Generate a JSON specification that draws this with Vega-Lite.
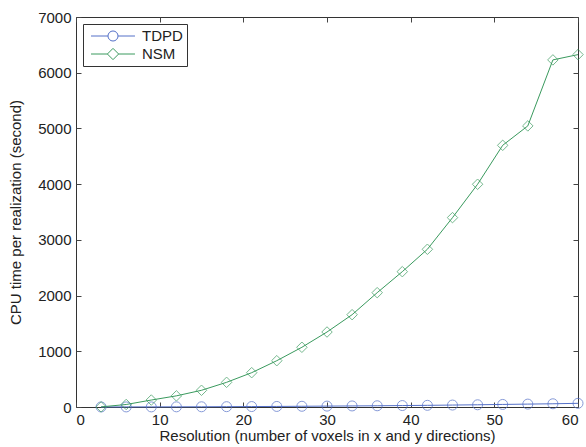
{
  "$schema": "https://vega.github.io/schema/vega-lite/v6.json",
  "width": 502,
  "height": 390,
  "autosize": "none",
  "padding": {"left": 76, "top": 17, "right": 8, "bottom": 40},
  "background": "white",
  "config": {
    "view": {"stroke": "#333333", "strokeWidth": 1},
    "font": "Liberation Sans",
    "axis": {"grid": false, "domain": false, "labelFont": "Liberation Sans", "titleFont": "Liberation Sans", "labelFontSize": 15, "titleFontSize": 15, "titleFontWeight": "normal", "labelColor": "#222", "titleColor": "#222", "tickColor": "#444"}
  },
  "data": {"values": [
    {"x": 3, "y": 1, "series": "TDPD"}, {"x": 6, "y": 1.5, "series": "TDPD"}, {"x": 9, "y": 2, "series": "TDPD"}, {"x": 12, "y": 3, "series": "TDPD"},
    {"x": 15, "y": 4, "series": "TDPD"}, {"x": 18, "y": 6, "series": "TDPD"}, {"x": 21, "y": 8, "series": "TDPD"}, {"x": 24, "y": 10, "series": "TDPD"},
    {"x": 27, "y": 13, "series": "TDPD"}, {"x": 30, "y": 16, "series": "TDPD"}, {"x": 33, "y": 19, "series": "TDPD"}, {"x": 36, "y": 22, "series": "TDPD"},
    {"x": 39, "y": 26, "series": "TDPD"}, {"x": 42, "y": 30, "series": "TDPD"}, {"x": 45, "y": 35, "series": "TDPD"}, {"x": 48, "y": 40, "series": "TDPD"},
    {"x": 51, "y": 46, "series": "TDPD"}, {"x": 54, "y": 52, "series": "TDPD"}, {"x": 57, "y": 58, "series": "TDPD"}, {"x": 60, "y": 66, "series": "TDPD"},
    {"x": 3, "y": 2, "series": "NSM"}, {"x": 6, "y": 45, "series": "NSM"}, {"x": 9, "y": 125, "series": "NSM"}, {"x": 12, "y": 200, "series": "NSM"},
    {"x": 15, "y": 300, "series": "NSM"}, {"x": 18, "y": 443, "series": "NSM"}, {"x": 21, "y": 616, "series": "NSM"}, {"x": 24, "y": 831, "series": "NSM"},
    {"x": 27, "y": 1072, "series": "NSM"}, {"x": 30, "y": 1346, "series": "NSM"}, {"x": 33, "y": 1657, "series": "NSM"}, {"x": 36, "y": 2052, "series": "NSM"},
    {"x": 39, "y": 2429, "series": "NSM"}, {"x": 42, "y": 2831, "series": "NSM"}, {"x": 45, "y": 3399, "series": "NSM"}, {"x": 48, "y": 3998, "series": "NSM"},
    {"x": 51, "y": 4697, "series": "NSM"}, {"x": 54, "y": 5045, "series": "NSM"}, {"x": 57, "y": 6230, "series": "NSM"}, {"x": 60, "y": 6325, "series": "NSM"}
  ]},
  "layer": [
    {
      "mark": {"type": "line", "strokeWidth": 1},
      "encoding": {
        "x": {"field": "x", "type": "quantitative", "scale": {"domain": [0, 60], "nice": false},
              "axis": {"orient": "bottom", "values": [0, 10, 20, 30, 40, 50, 60], "format": "d", "tickSize": -5, "labelPadding": 10, "title": "Resolution (number of voxels in x and y directions)", "titlePadding": 1}},
        "y": {"field": "y", "type": "quantitative", "scale": {"domain": [0, 7000], "nice": false},
              "axis": {"orient": "left", "values": [0, 1000, 2000, 3000, 4000, 5000, 6000, 7000], "format": "d", "tickSize": -5, "labelPadding": 10, "title": "CPU time per realization (second)", "titlePadding": 14}},
        "color": {"field": "series", "type": "nominal",
                  "scale": {"domain": ["TDPD", "NSM"], "range": ["#5470c8", "#3a9a5e"]},
                  "legend": {"orient": "none", "legendX": 7, "legendY": 7, "title": null,
                             "strokeColor": "#333", "fillColor": "white", "padding": 4,
                             "labelFontSize": 15, "labelFont": "Liberation Sans", "labelColor": "#222", "labelOffset": 21,
                             "symbolSize": 225, "symbolOffset": 18, "rowPadding": 2,
                             "encode": {"symbols": {"update": {
                               "shape": {"signal": "datum.value === 'TDPD' ? 'M-2.93,0H-0.67M0.67,0H2.93M0.67,0A0.67,0.67 0 1,1 -0.67,0A0.67,0.67 0 1,1 0.67,0' : 'M-2.93,0H-0.75M0.75,0H2.93M0,-0.75L0.75,0L0,0.75L-0.75,0Z'"},
                               "fill": {"value": "transparent"},
                               "strokeWidth": {"value": 1}
                             }}}}}
      }
    },
    {
      "transform": [{"filter": "datum.series === 'TDPD'"}],
      "mark": {"type": "point", "filled": false, "strokeWidth": 1, "shape": "circle", "size": 100, "color": "#5470c8"},
      "encoding": {
        "x": {"field": "x", "type": "quantitative", "scale": {"domain": [0, 60], "nice": false},
              "axis": {"orient": "top", "values": [0, 10, 20, 30, 40, 50, 60], "tickSize": -5, "labels": false, "title": null}},
        "y": {"field": "y", "type": "quantitative", "scale": {"domain": [0, 7000], "nice": false},
              "axis": {"orient": "right", "values": [0, 1000, 2000, 3000, 4000, 5000, 6000, 7000], "tickSize": -5, "labels": false, "title": null}}
      }
    },
    {
      "transform": [{"filter": "datum.series === 'NSM'"}],
      "mark": {"type": "point", "filled": false, "strokeWidth": 1, "shape": "diamond", "size": 110, "color": "#3a9a5e"},
      "encoding": {
        "x": {"field": "x", "type": "quantitative", "axis": null},
        "y": {"field": "y", "type": "quantitative", "axis": null}
      }
    }
  ],
  "resolve": {"axis": {"x": "independent", "y": "independent"}}
}
